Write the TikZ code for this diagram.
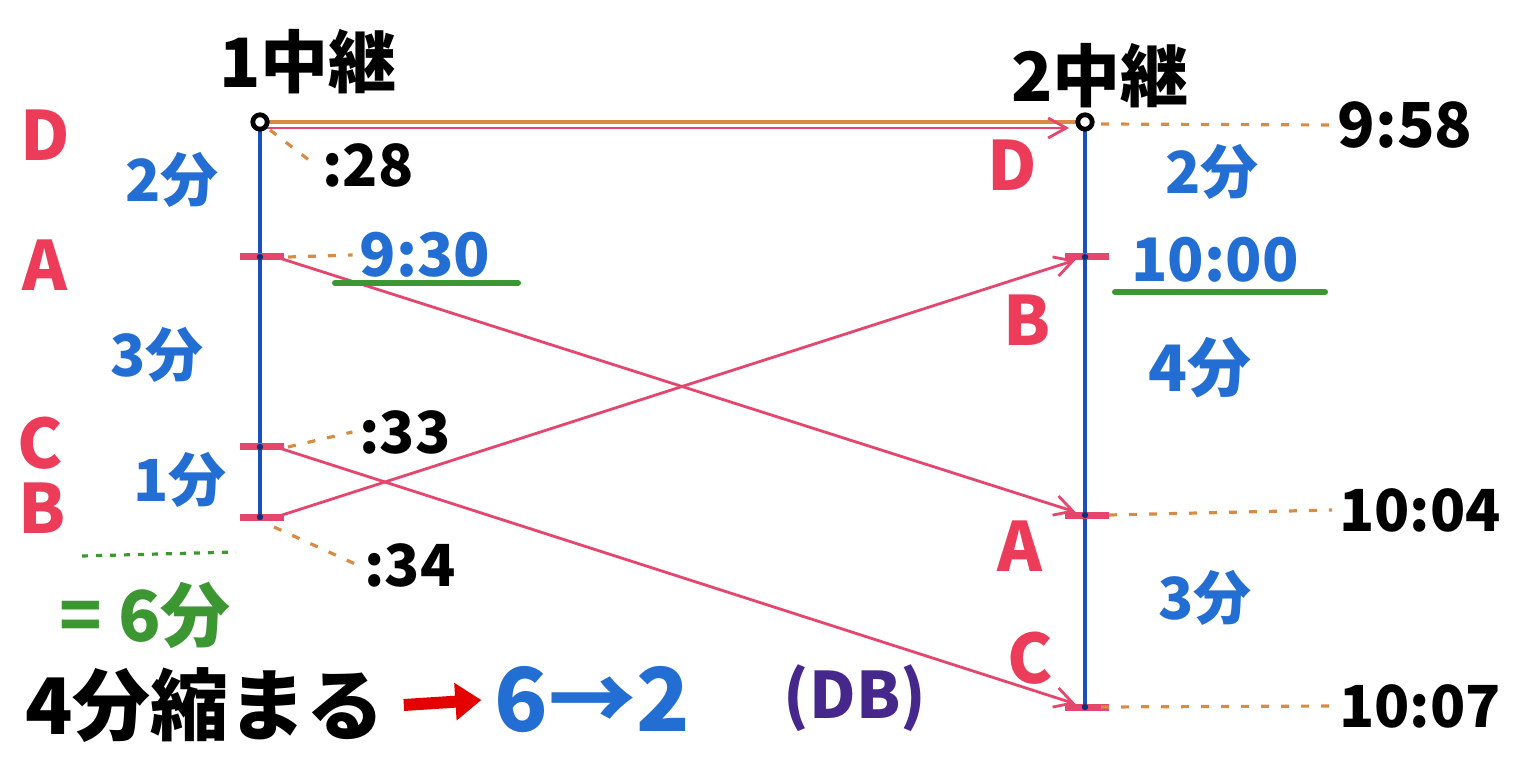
\documentclass[tikz,border=0pt]{standalone}
\usepackage{fontspec}
\setmainfont{Noto Sans CJK JP}
\usetikzlibrary{arrows.meta,positioning}
\definecolor{relayBlue}{RGB}{25,80,190}
\definecolor{textBlue}{RGB}{35,110,210}
\definecolor{runPink}{RGB}{228,70,110}
\definecolor{letRed}{RGB}{236,60,90}
\definecolor{markGreen}{RGB}{60,150,50}
\definecolor{dotOrange}{RGB}{215,140,70}
\definecolor{dbPurple}{RGB}{70,40,140}
\tikzset{
  sz/.style={font=\fontsize{#1}{#1}\selectfont\bfseries},
  runner/.style={letRed, sz=34},
  lapmin/.style={textBlue, sz=29},
  clock/.style={black, sz=29},
  relay/.style={relayBlue, line width=2pt},
  tick/.style={runPink, line width=3.5pt},
  pass/.style={runPink, line width=1.4pt, ->, shorten >=5pt},
  guide/.style={dotOrange, line width=1.6pt, dash pattern=on 4pt off 6pt},
}
\begin{document}
\begin{tikzpicture}[x=0.5pt, y=-0.5pt, >={Straight Barb[length=9pt,width=10pt]}]
    \useasboundingbox (0,0) rectangle (1540,774);
    % --- relay points ---
    \coordinate (s1) at (260,122);
    \coordinate (s2) at (1085,122);
    \coordinate (a1) at (260,257);
    \coordinate (c1) at (260,447);
    \coordinate (b1) at (260,517);
    \coordinate (b2) at (1085,257);
    \coordinate (a2) at (1085,515);
    \coordinate (c2) at (1085,707);
    % --- titles ---
    \node[black, sz=34] (ttl1) at (308,62) {1中継};
    \node[black, sz=34] (ttl2) at (1100,76) {2中継};
    % --- vertical lines ---
    \draw[relay] (s1) -- (b1);
    \draw[relay] (s2) -- (c2);
    % --- top line (D) ---
    \draw[dotOrange, line width=2.4pt] (s1) -- (s2);
    \draw[pass, shorten >=8pt] ([yshift=-3pt]s1) -- ([yshift=-3pt]s2);
    % --- ticks ---
    \foreach \p in {a1,c1,b1,b2,a2,c2}
      \draw[tick] ([xshift=-10pt]\p) -- ([xshift=12pt]\p);
    % --- crossing runners ---
    \draw[pass] ([xshift=8pt]a1) -- (a2);
    \draw[pass] ([xshift=8pt]c1) -- (c2);
    \draw[pass] ([xshift=8pt]b1) -- (b2);
    \fill[relayBlue!60!black] \foreach \p in {a1,c1,b1,b2,a2,c2} {(\p) circle (1.6pt)};
    % --- relay circles ---
    \draw[black, line width=2.4pt, fill=white] (s1) circle (3.6pt);
    \draw[black, line width=2.4pt, fill=white] (s2) circle (3.6pt);
    % --- left column ---
    \node[runner] (ld) at (45,135) {D};
    \node[runner] (la) at (45,265) {A};
    \node[runner] (lc) at (40,443) {C};
    \node[runner] (lb) at (42,508) {B};
    \node[lapmin] (lm2) at (172,180) {2分};
    \node[lapmin] (lm3) at (157,355) {3分};
    \node[lapmin] (lm1) at (180,480) {1分};
    \node[clock] (t28) at (368,165) {:28};
    \node[textBlue, sz=30] (t930) at (425,255) {9:30};
    \node[clock] (t33) at (405,432) {:33};
    \node[clock] (t34) at (410,565) {:34};
    \draw[guide] ([xshift=5pt,yshift=-4pt]s1) -- (t28.west);
    \draw[guide] ([xshift=14pt]a1) -- (t930.west);
    \draw[markGreen, line width=3pt, line cap=round] (335,283) -- (518,283);
    \draw[guide] ([xshift=14pt]c1) -- (t33.west);
    \draw[guide] ([xshift=7pt,yshift=-5pt]b1) -- (t34.west);
    % --- total ---
    \draw[markGreen, line width=1.6pt, dash pattern=on 3pt off 4pt] (82,556) -- (236,552);
    \node[markGreen, sz=35] (tot) at (145,615) {= 6分};
    % --- right column ---
    \node[runner] (rd) at (1012,165) {D};
    \node[runner] (rb) at (1027,320) {B};
    \node[runner] (ra) at (1020,546) {A};
    \node[runner] (rc) at (1030,658) {C};
    \node[lapmin] (rm2) at (1212,172) {2分};
    \node[textBlue, sz=30] (t1000) at (1215,260) {10:00};
    \draw[markGreen, line width=3pt, line cap=round] (1115,292) -- (1325,292);
    \node[lapmin, sz=32] (rm4) at (1200,368) {4分};
    \node[lapmin] (rm3) at (1205,598) {3分};
    \node[clock, sz=31] (t958) at (1405,125) {9:58};
    \node[clock] (t1004) at (1420,510) {10:04};
    \node[clock] (t1007) at (1420,706) {10:07};
    \draw[guide] ([xshift=8pt,yshift=-1pt]s2) -- (t958.west);
    \draw[guide] ([xshift=12pt]a2) -- (t1004.west);
    \draw[guide] ([xshift=8pt]c2) -- (t1007.west);
    % --- bottom note ---
    \node[black, sz=39] (gap) at (205,705) {4分縮まる};
    \node[textBlue, sz=44] (swap) at (592,700) {6→2};
    \node[dbPurple, sz=32] (db) at (855,698) {(DB)};
    \draw[-{Triangle[length=13pt,width=18pt]}, red!90!black, line width=6pt]
      (gap.east) ++(6pt,0) -- ([xshift=-3pt]swap.west);
  \end{tikzpicture}
\end{document}
